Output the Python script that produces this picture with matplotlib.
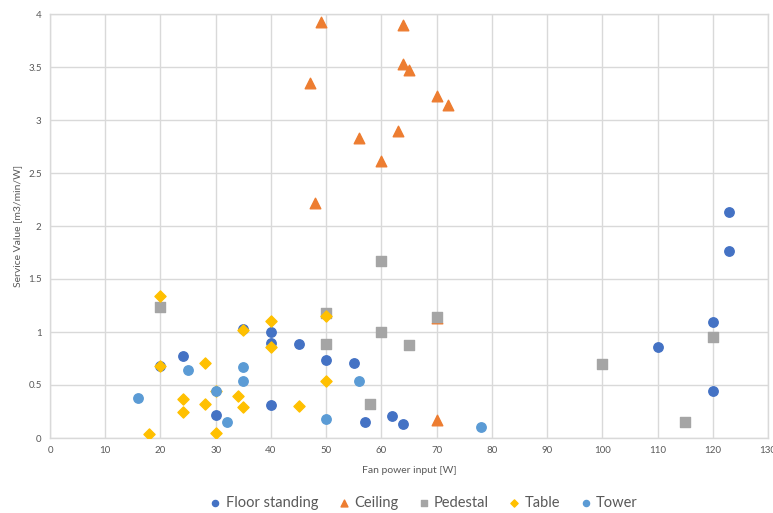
import matplotlib.pyplot as plt

# Fan types: power input [W] and service value [m3/min/W]
floor_x = [20, 24, 35, 30, 40, 40, 45, 50, 55, 40, 57, 62, 64, 123, 123, 120, 110, 120]
floor_y = [0.68, 0.77, 1.03, 0.22, 1.00, 0.90, 0.89, 0.74, 0.71, 0.31, 0.15, 0.21, 0.13, 2.13, 1.76, 1.09, 0.86, 0.44]

ceiling_x = [49, 64, 64, 65, 47, 70, 72, 63, 56, 60, 48, 70, 70]
ceiling_y = [3.92, 3.90, 3.53, 3.47, 3.35, 3.23, 3.14, 2.90, 2.83, 2.61, 2.22, 0.17, 1.13]

pedestal_x = [20, 60, 50, 70, 60, 50, 65, 58, 120, 100, 115]
pedestal_y = [1.24, 1.67, 1.18, 1.14, 1.00, 0.89, 0.88, 0.32, 0.95, 0.70, 0.15]

table_x = [20, 20, 35, 28, 24, 24, 28, 34, 35, 18, 30, 40, 40, 50, 50, 45, 30]
table_y = [1.34, 0.68, 1.02, 0.71, 0.37, 0.25, 0.32, 0.40, 0.29, 0.04, 0.05, 1.10, 0.86, 1.15, 0.54, 0.30, 0.44]

tower_x = [16, 25, 30, 32, 35, 35, 56, 50, 78]
tower_y = [0.38, 0.64, 0.44, 0.15, 0.67, 0.535, 0.535, 0.18, 0.10]

plt.rcParams['font.family'] = ['Lato', 'DejaVu Sans']

fig = plt.figure(figsize=(7.73, 5.13), dpi=100)
ax = fig.add_axes([50 / 773, 75 / 513, 718 / 773, 424 / 513])

ax.scatter(floor_x, floor_y, marker='o', s=46, color='#4472C4', label='Floor standing', zorder=3)
ax.scatter(ceiling_x, ceiling_y, marker='^', s=58, color='#ED7D31', label='Ceiling', zorder=3)
ax.scatter(pedestal_x, pedestal_y, marker='s', s=42, color='#A5A5A5', label='Pedestal', zorder=3)
ax.scatter(table_x, table_y, marker='D', s=32, color='#FFC000', label='Table', zorder=3)
ax.scatter(tower_x, tower_y, marker='o', s=46, color='#5B9BD5', label='Tower', zorder=3)

ax.set_xlim(0, 130)
ax.set_ylim(0, 4)
ax.set_xticks(range(0, 131, 10))
ax.set_yticks([0, 0.5, 1, 1.5, 2, 2.5, 3, 3.5, 4])
ax.set_yticklabels(['0', '0.5', '1', '1.5', '2', '2.5', '3', '3.5', '4'])
ax.tick_params(length=0, labelsize=7, colors='#595959', pad=6)
ax.grid(True, color='#D9D9D9', linewidth=1)
ax.set_axisbelow(True)
for sp in ax.spines.values():
    sp.set_color('#D9D9D9')
    sp.set_linewidth(1)

ax.set_xlabel('Fan power input [W]', fontsize=7.5, color='#595959', labelpad=8)
ax.set_ylabel('Service Value [m3/min/W]', fontsize=7.5, color='#595959', labelpad=4)

fig.legend(loc='center', bbox_to_anchor=(0.548, 1 - 503 / 513), ncol=5, frameon=False,
           fontsize=10.5, labelcolor='#595959', handlelength=0.8, handletextpad=0.3,
           columnspacing=1.35, markerscale=0.65)

fig.savefig('out.png', dpi=100)
